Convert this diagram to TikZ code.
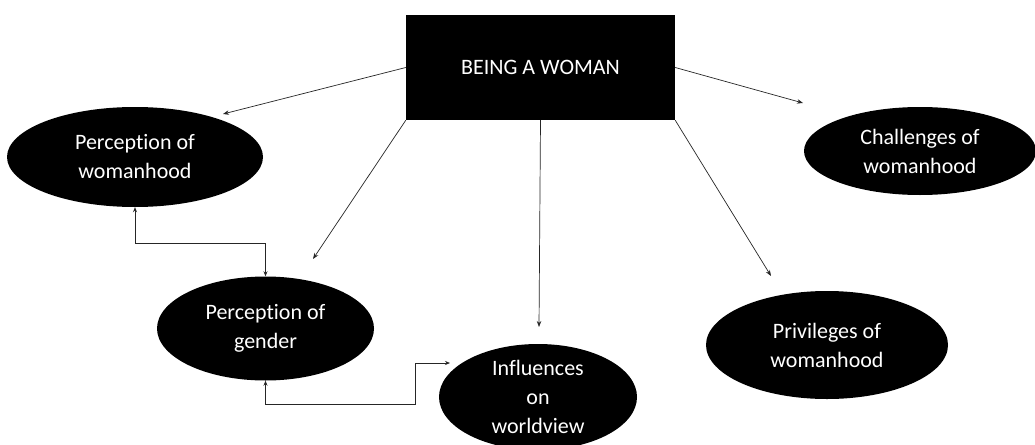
\documentclass[tikz,border=0pt]{standalone}
\usepackage{fontspec}
\setmainfont[Ligatures=NoCommon]{Carlito}
\usetikzlibrary{shapes.geometric,arrows.meta}
\begin{document}
\begin{tikzpicture}[x=1pt,y=-1pt,
  oval/.style={ellipse,fill=black,text=white,align=center,inner sep=0pt,
    font=\fontsize{22}{29}\selectfont},
  conn/.style={draw=black!85,line width=0.7pt,-{Stealth[length=6pt,width=4.5pt]}},
  dbl/.style={draw=black!85,line width=0.7pt,{Stealth[length=5pt,width=4pt]}-{Stealth[length=5pt,width=4pt]}}]
\useasboundingbox[fill=white] (0,0) rectangle (1035,444);
\node[fill=black,text=white,minimum width=269pt,minimum height=105pt,inner sep=0pt,
  font=\fontsize{22}{24}\selectfont] (box) at (540.5,67.5) {BEING A WOMAN};
\node[oval,minimum width=256pt,minimum height=100pt] (pw) at (135,157) {Perception of\\womanhood};
\node[oval,minimum width=217pt,minimum height=104pt] (pg) at (265.5,328.5) {Perception of\\gender};
\node[oval,minimum width=198pt,minimum height=106pt] (iw) at (538,397) {Influences\\on\\worldview};
\node[oval,minimum width=232pt,minimum height=88pt] (cw) at (920,151) {Challenges of\\womanhood};
\node[oval,minimum width=242pt,minimum height=108pt] (prw) at (827,345) {Privileges of\\womanhood};
\coordinate (t1) at (223,114);
\coordinate (t2) at (313,259);
\coordinate (t3) at (539,327);
\coordinate (t4) at (803,103);
\coordinate (t5) at (771,276);
\coordinate (t6) at (450,363);
\draw[conn] (box.west) -- (t1);
\draw[conn] (box.south west) -- (t2);
\draw[conn] (box.south) -- (t3);
\draw[conn] (box.east) -- (t4);
\draw[conn] (box.south east) -- (t5);
\draw[dbl] (pw.south) -- ++(0,36) -| (pg.north);
\draw[dbl] (pg.south) |- (415,404) |- (t6);
\end{tikzpicture}
\end{document}
